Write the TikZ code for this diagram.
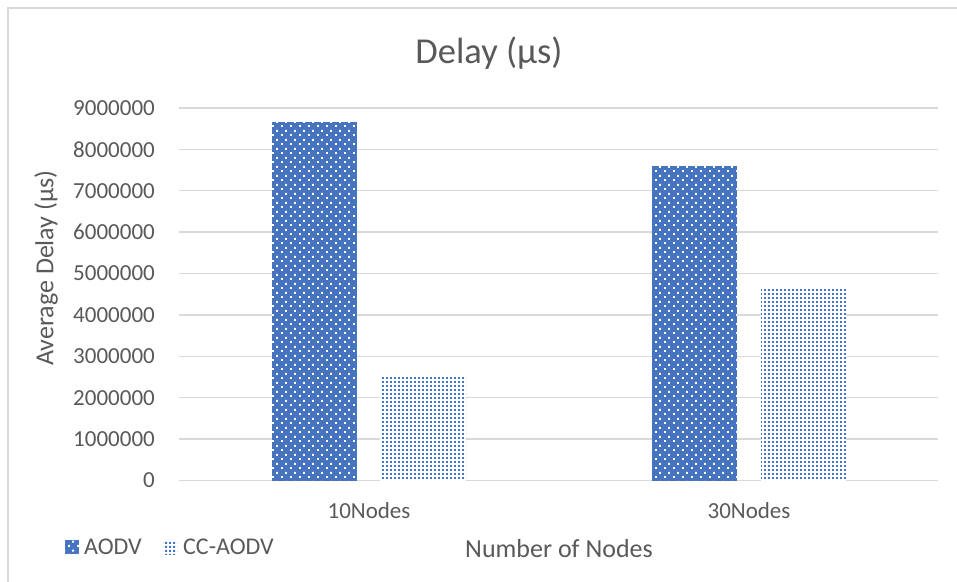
\documentclass[tikz,border=0pt]{standalone}
\usepackage{fontspec}
\setmainfont{Carlito}
\usetikzlibrary{patterns}
\definecolor{barblue}{HTML}{4674C0}
\definecolor{gridgray}{HTML}{D9D9D9}
\definecolor{txtgray}{HTML}{595959}
\pgfdeclarepatternformonly{bigdots}{\pgfpointorigin}{\pgfpoint{8.5pt}{8.6pt}}{\pgfpoint{8.5pt}{8.6pt}}{%
  \pgfpathrectangle{\pgfpoint{0pt}{0pt}}{\pgfpoint{2pt}{2pt}}%
  \pgfpathrectangle{\pgfpoint{4.25pt}{4.3pt}}{\pgfpoint{2pt}{2pt}}%
  \pgfusepath{fill}}
\pgfdeclarepatternformonly{densedots}{\pgfpointorigin}{\pgfpoint{4.25pt}{4.3pt}}{\pgfpoint{4.25pt}{4.3pt}}{%
  \pgfpathrectangle{\pgfpoint{0pt}{0pt}}{\pgfpoint{2.3pt}{2.3pt}}%
  \pgfusepath{fill}}
\tikzset{
  ticklbl/.style={anchor=east, text=txtgray, font=\fontsize{23}{23}\selectfont, inner sep=0pt},
  catlbl/.style={text=txtgray, font=\fontsize{23}{23}\selectfont, inner sep=0pt},
  leglbl/.style={text=txtgray, font=\fontsize{24}{24}\selectfont, inner sep=0pt, anchor=west},
  axtitle/.style={text=txtgray, font=\fontsize{26}{26}\selectfont, inner sep=0pt},
  gridline/.style={draw=gridgray, line width=1.5pt},
  aodvbar/.style={fill=barblue, postaction={pattern=bigdots, pattern color=white}},
  ccbar/.style={fill=white, postaction={pattern=densedots, pattern color=barblue}},
}
\begin{document}
\begin{tikzpicture}[x=1pt,y=-1pt]
\useasboundingbox (0,0) rectangle (957,581);
% chart border (only top and left visible)
\draw[gridgray, line width=1.5pt] (8,600) -- (8,8) -- (970,8);
% title
\node[text=txtgray, font=\fontsize{36.5}{36.5}\selectfont, inner sep=0pt] (title) at (489,53) {Delay (μs)};
% gridlines and tick labels
\foreach \v in {0,...,9} {
  \pgfmathsetmacro{\yy}{480.5-\v*41.4}
  \draw[gridline] (179,\yy) -- (938,\yy);
  \node[ticklbl] (t\v) at (155,\yy) {\ifnum\v=0 0\else\v000000\fi};
}
% bars
\path[aodvbar] (272,480.5) rectangle (357,121.7);
\path[ccbar] (380,480.5) rectangle (466,377.4);
\path[aodvbar] (652,480.5) rectangle (737,165.9);
\path[ccbar] (761,480.5) rectangle (846,288.4);
% category labels
\node[catlbl] (c1) at (369,511) {10Nodes};
\node[catlbl] (c2) at (749,511) {30Nodes};
% axis titles
\node[axtitle] (xt) at (559,549) {Number of Nodes};
\node[axtitle, rotate=90] (yt) at (46,268) {Average Delay (μs)};
% legend
\path[aodvbar] (65,540) rectangle (79,554);
\node[leglbl] (l1) at (84,547) {AODV};
\path[ccbar] (163,540) rectangle (177,554);
\node[leglbl] (l2) at (183,547) {CC-AODV};
\end{tikzpicture}
\end{document}
